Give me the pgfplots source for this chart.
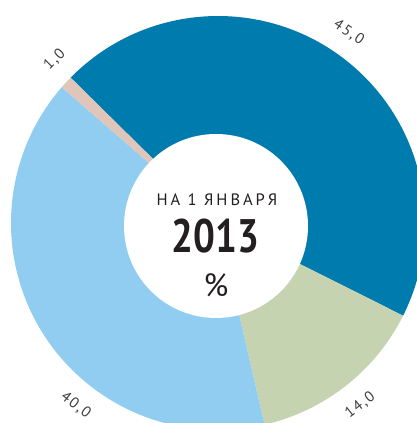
\documentclass[border=0pt]{standalone}
\usepackage{fontspec}
\setmainfont{PT Sans}
\usepackage{pgfplots}
\usepackage{pgfplotstable}
\pgfplotsset{compat=1.18}
\definecolor{cblue}{HTML}{007BAE}
\definecolor{clblue}{HTML}{90CDF0}
\definecolor{cgreen}{HTML}{C5D3B0}
\definecolor{cpink}{HTML}{E0C6BA}
\definecolor{ctext}{HTML}{231F20}
\definecolor{clabel}{HTML}{3C3C3C}
\newcommand\labfont{\fontsize{15bp}{17bp}\selectfont\addfontfeature{LetterSpace=12}}
\pgfplotstableread{
value col label labang
45 cblue 45,0 55.5
14 cgreen 14,0 -52
40 clblue 40,0 232
1 cpink 1,0 135
}\piedata
\def\cx{218}\def\cy{200}\def\R{207}\def\LR{231}
\begin{document}
\begin{tikzpicture}
\begin{axis}[scale only axis, width=417bp, height=423bp,
  xmin=0, xmax=417, ymin=0, ymax=423, hide axis, clip=true]
\gdef\cur{135.4}
\pgfplotsforeachungrouped \i in {0,...,3}{%
  \pgfplotstablegetelem{\i}{value}\of\piedata \let\pv\pgfplotsretval
  \pgfplotstablegetelem{\i}{col}\of\piedata \let\pc\pgfplotsretval
  \pgfmathsetmacro\angA{\cur}%
  \pgfmathsetmacro\angB{\cur-3.6*\pv}%
  \edef\temp{\noexpand\fill[\pc] (axis cs:\cx,\cy) -- ([shift={(\angA:\R bp)}]axis cs:\cx,\cy) arc[start angle=\angA, end angle=\angB, radius=\R bp] -- cycle;}%
  \temp
  \global\let\cur\angB
}
\pgfplotsforeachungrouped \i in {0,...,3}{%
  \pgfplotstablegetelem{\i}{label}\of\piedata \let\lab\pgfplotsretval
  \pgfplotstablegetelem{\i}{labang}\of\piedata \let\pa\pgfplotsretval
  \pgfmathsetmacro\lx{\cx+\LR*cos(\pa)}%
  \pgfmathsetmacro\ly{\cy+\LR*sin(\pa)}%
  \pgfmathsetmacro\rot{\pa-90}%
  \pgfmathparse{\rot<-90?\rot+180:(\rot>90?\rot-180:\rot)}\let\rot\pgfmathresult
  \edef\temp{\noexpand\node[rotate=\rot, text=clabel, font=\noexpand\labfont, inner sep=0pt] at (axis cs:\lx,\ly) {\lab};}%
  \temp
}
\fill[white] (axis cs:216,197) circle[radius=92bp];
\node[anchor=base, text=ctext, inner sep=0pt, font=\fontsize{16.5bp}{18bp}\selectfont\addfontfeature{LetterSpace=18}] at (axis cs:217,217) {НА 1 ЯНВАРЯ};
\node[anchor=base, text=ctext, inner sep=0pt, font=\fontsize{47bp}{50bp}\selectfont\bfseries] at (axis cs:215.5,170) {\scalebox{0.82}[1]{2013}};
\node[anchor=base, text=ctext, inner sep=0pt, font=\fontsize{32bp}{34bp}\selectfont] at (axis cs:216,126) {\%};
\end{axis}
\pgfresetboundingbox
\path[use as bounding box] (current axis.south west) rectangle (current axis.north east);
\end{tikzpicture}
\end{document}
